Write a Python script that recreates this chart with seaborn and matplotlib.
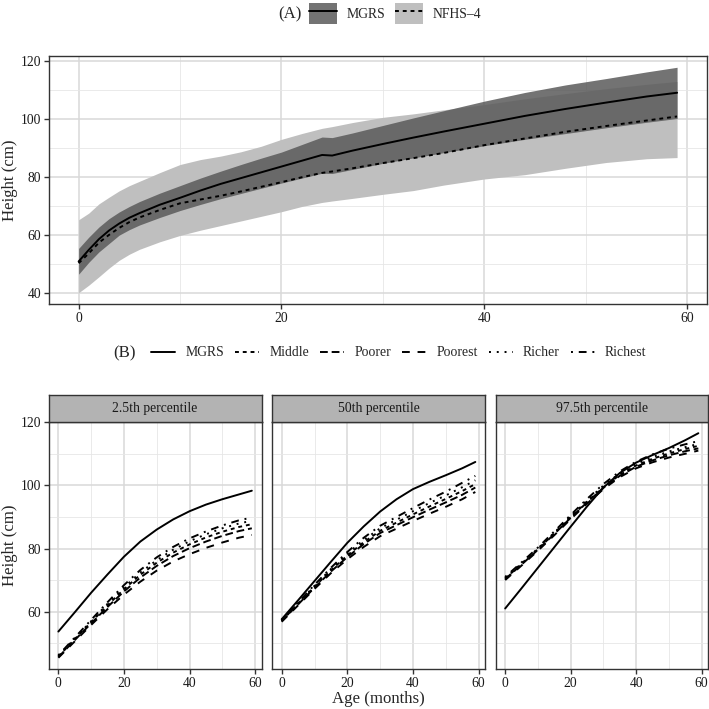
import numpy as np
import pandas as pd
import matplotlib
matplotlib.use("Agg")
import matplotlib.pyplot as plt
import seaborn as sns
from matplotlib.lines import Line2D
from matplotlib.patches import Patch

sns.set_theme(style="ticks")
plt.rcParams["font.family"] = ["Liberation Serif", "DejaVu Serif"]

# ---- (A) MGRS vs NFHS-4 height by age ----
months_a = [0, 1, 2, 3, 4, 5, 6, 8, 10, 12, 14, 16, 18, 20, 22, 24, 25, 27, 30, 33, 36, 40, 44, 48, 52, 56, 59]
mgrs_mid = [50.8, 54.8, 58.5, 61.5, 63.9, 65.9, 67.5, 70.4, 72.8, 75.3, 77.6, 79.6, 81.6, 83.6, 85.6, 87.6, 87.4,
            89.1, 91.4, 93.6, 95.7, 98.4, 101.1, 103.5, 105.7, 107.8, 109.1]
mgrs_lo = [46.4, 50.5, 54.1, 57.0, 59.9, 61.8, 63.4, 66.0, 68.4, 70.5, 72.5, 74.3, 76.1, 77.9, 79.6, 81.3, 81.2,
           82.6, 84.7, 86.6, 88.4, 90.8, 93.0, 95.0, 97.0, 98.9, 100.2]
mgrs_hi = [55.3, 59.2, 62.7, 65.6, 67.9, 69.8, 71.5, 74.4, 77.0, 79.6, 82.0, 84.3, 86.5, 88.6, 91.2, 93.8, 93.6,
           95.2, 97.8, 100.4, 102.9, 106.2, 109.2, 111.8, 114.0, 116.3, 117.9]
nfhs_mid = [50.2, 53.6, 57.3, 60.0, 62.4, 64.4, 66.0, 68.6, 70.9, 72.2, 73.5, 75.0, 76.6, 78.2, 79.9, 81.4, 81.9,
            83.0, 84.8, 86.5, 88.3, 91.0, 93.3, 95.6, 97.6, 99.5, 100.9]
nfhs_lo = [40.0, 42.6, 45.5, 48.5, 51.2, 53.3, 55.0, 57.6, 59.8, 61.6, 63.2, 64.8, 66.4, 68.0, 69.8, 71.2, 71.7,
           72.6, 74.0, 75.3, 77.2, 79.3, 80.8, 83.0, 85.0, 86.3, 86.7]
nfhs_hi = [65.2, 67.5, 70.7, 73.0, 75.2, 77.0, 78.5, 81.5, 84.3, 86.0, 87.2, 88.7, 90.6, 93.0, 95.0, 96.8, 97.4,
           98.8, 100.6, 101.8, 103.2, 105.0, 107.0, 108.8, 110.5, 112.0, 113.0]

# ---- (B) percentiles by wealth group ----
months_b = [0, 5, 10, 15, 20, 25, 30, 35, 40, 45, 50, 55, 59]
groups = ["MGRS", "Middle", "Poorer", "Poorest", "Richer", "Richest"]
panels = ["2.5th percentile", "50th percentile", "97.5th percentile"]

p025 = {
    "MGRS":    [53.7, 59.8, 66.0, 71.8, 77.4, 82.2, 86.0, 89.2, 91.8, 93.9, 95.6, 97.1, 98.3],
    "Richest": [46.2, 51.8, 57.4, 63.0, 68.4, 73.2, 77.2, 80.5, 83.2, 85.4, 87.3, 88.9, 89.8],
    "Richer":  [46.0, 51.5, 57.0, 62.5, 67.7, 72.4, 76.3, 79.6, 82.3, 84.5, 86.4, 87.9, 88.8],
    "Middle":  [45.8, 51.3, 56.7, 62.0, 67.1, 71.7, 75.5, 78.7, 81.3, 83.5, 85.3, 86.8, 87.7],
    "Poorer":  [45.6, 51.0, 56.3, 61.5, 66.4, 70.8, 74.5, 77.6, 80.1, 82.2, 84.0, 85.5, 86.4],
    "Poorest": [45.4, 50.6, 55.8, 60.8, 65.4, 69.5, 73.0, 75.9, 78.2, 80.2, 81.9, 83.4, 84.3],
}
p50 = {
    "MGRS":    [57.6, 63.6, 69.7, 75.8, 81.8, 87.0, 91.7, 95.6, 98.8, 101.1, 103.2, 105.4, 107.4],
    "Richest": [57.4, 62.9, 68.5, 73.9, 78.9, 83.4, 87.2, 90.0, 92.8, 95.5, 98.0, 100.8, 103.0],
    "Richer":  [57.2, 62.7, 68.2, 73.5, 78.4, 82.7, 86.4, 89.1, 91.8, 94.4, 96.8, 99.4, 101.6],
    "Middle":  [57.1, 62.5, 67.9, 73.1, 77.8, 82.0, 85.6, 88.2, 90.8, 93.3, 95.7, 98.2, 100.4],
    "Poorer":  [57.0, 62.3, 67.6, 72.7, 77.3, 81.4, 84.9, 87.4, 89.9, 92.3, 94.6, 97.0, 99.3],
    "Poorest": [56.8, 62.0, 67.2, 72.2, 76.6, 80.5, 83.9, 86.3, 88.7, 91.0, 93.2, 95.6, 97.9],
}
p975 = {
    "MGRS":    [61.0, 67.4, 73.9, 80.4, 86.9, 93.3, 99.3, 103.9, 107.2, 109.6, 111.8, 114.3, 116.5],
    "Richest": [71.0, 75.6, 80.3, 85.4, 90.6, 95.7, 100.4, 104.4, 107.5, 109.8, 111.6, 113.0, 114.0],
    "Richer":  [70.7, 75.3, 80.0, 85.0, 90.2, 95.2, 99.9, 103.8, 106.8, 109.0, 110.7, 112.1, 113.1],
    "Middle":  [70.5, 75.1, 79.8, 84.8, 89.9, 94.8, 99.4, 103.3, 106.3, 108.4, 110.1, 111.5, 112.5],
    "Poorer":  [70.3, 74.9, 79.6, 84.6, 89.7, 94.6, 99.2, 103.0, 105.9, 107.9, 109.5, 110.8, 111.7],
    "Poorest": [70.0, 74.6, 79.3, 84.2, 89.3, 94.2, 98.8, 102.6, 105.4, 107.3, 108.8, 110.0, 111.0],
}

dash_b = {"MGRS": "", "Middle": (2, 2), "Poorer": (4, 2), "Poorest": (4, 4),
          "Richer": (1, 3), "Richest": (1, 3, 4, 3)}

GRID_MAJ = "#d9d9d9"
GRID_MIN = "#e6e6e6"
BORDER = "#333333"
LW = 1.4


def style_axes(ax):
    ax.set_facecolor("white")
    for s in ax.spines.values():
        s.set_color(BORDER)
        s.set_linewidth(1.0)
        s.set_visible(True)
    ax.set_xticks([0, 20, 40, 60])
    ax.set_xticks([10, 30, 50], minor=True)
    ax.grid(True, which="major", color=GRID_MAJ, lw=1.1)
    ax.grid(True, which="minor", color=GRID_MIN, lw=0.6)
    ax.set_axisbelow(True)
    ax.tick_params(which="major", length=3.5, width=1.0, color=BORDER, labelsize=9.8,
                   labelcolor="#1a1a1a", pad=2)
    ax.tick_params(which="minor", length=0)
    ax.set_xlabel("")
    ax.set_ylabel("")


fig = plt.figure(figsize=(7.09, 7.09), dpi=100)
W = H = 709.0


def rect(x0, y0, x1, y1):
    return [x0 / W, 1 - y1 / H, (x1 - x0) / W, (y1 - y0) / H]


# ---- top panel ----
ax_a = fig.add_axes(rect(48.7, 56, 707, 304))
ax_a.fill_between(months_a, nfhs_lo, nfhs_hi, color="#bfbfbf", lw=0)
ax_a.fill_between(months_a, mgrs_lo, mgrs_hi, color="#5a5a5a", alpha=0.85, lw=0)
df_a = pd.concat([
    pd.DataFrame({"age": months_a, "height": mgrs_mid, "source": "MGRS"}),
    pd.DataFrame({"age": months_a, "height": nfhs_mid, "source": "NFHS\u20134"}),
])
sns.lineplot(data=df_a, x="age", y="height", style="source",
             dashes={"MGRS": "", "NFHS\u20134": (2, 2)}, color="black", lw=LW,
             errorbar=None, legend=False, ax=ax_a)
style_axes(ax_a)
ax_a.margins(x=0.05, y=0.05)
ax_a.set_yticks([40, 60, 80, 100, 120])
ax_a.set_yticks([50, 70, 90, 110], minor=True)
fig.text(10 / W, 1 - 180 / H, "Height (cm)", rotation=90, ha="center", va="center", fontsize=12.1)

# legend (A)
fig.text(289.5 / W, 1 - 14 / H, "(A)", ha="center", va="center", fontsize=12.1)
h_a = [(Patch(facecolor="#5a5a5a", alpha=0.85, lw=0), Line2D([], [], color="black", lw=LW)),
       (Patch(facecolor="#bfbfbf", lw=0), Line2D([], [], color="black", lw=LW, dashes=(2, 2)))]
fig.legend(h_a, ["MGRS", "NFHS\u20134"], loc="center left", bbox_to_anchor=(309 / W, 1 - 13.5 / H),
           ncol=2, frameon=False, fontsize=9.9, handlelength=2.0, handleheight=1.9,
           handletextpad=0.74, columnspacing=0.7, borderpad=0, borderaxespad=0)

# ---- bottom panels ----
rows = []
for pname, d in zip(panels, [p025, p50, p975]):
    for g in groups:
        rows.append(pd.DataFrame({"age": months_b, "height": d[g], "group": g, "panel": pname}))
df_b = pd.concat(rows, ignore_index=True)

xs = [(48.7, 261.5), (272, 485), (495.5, 708)]
axes_b = []
for i, (pname, (x0, x1)) in enumerate(zip(panels, xs)):
    ax = fig.add_axes(rect(x0, 422, x1, 669), sharey=axes_b[0] if axes_b else None)
    sub = df_b[df_b["panel"] == pname]
    sns.lineplot(data=sub, x="age", y="height", style="group", style_order=groups,
                 dashes=dash_b, color="black", lw=LW, errorbar=None, legend=False, ax=ax)
    style_axes(ax)
    ax.margins(x=0.05, y=0.05)
    ax.set_yticks([60, 80, 100, 120])
    ax.set_yticks([50, 70, 90, 110], minor=True)
    if i > 0:
        ax.tick_params(axis="y", which="both", left=False, labelleft=False)
    axes_b.append(ax)
    # strip
    sax = fig.add_axes(rect(x0, 395, x1, 422))
    sax.set_facecolor("#b3b3b3")
    sax.set_xticks([])
    sax.set_yticks([])
    for s in sax.spines.values():
        s.set_color(BORDER)
        s.set_linewidth(1.0)
    sax.text(0.5, 0.5, pname, ha="center", va="center", fontsize=9.8, color="#1a1a1a",
             transform=sax.transAxes)

fig.text(10 / W, 1 - 545 / H, "Height (cm)", rotation=90, ha="center", va="center", fontsize=12.1)
fig.text(378 / W, 1 - 699 / H, "Age (months)", ha="center", va="center", fontsize=12.1)

# legend (B)
fig.text(124.5 / W, 1 - 353 / H, "(B)", ha="center", va="center", fontsize=12.1)
h_b = [Line2D([], [], color="black", lw=LW, dashes=dash_b[g]) if dash_b[g] else
       Line2D([], [], color="black", lw=LW) for g in groups]
fig.legend(h_b, groups, loc="center left", bbox_to_anchor=(151 / W, 1 - 353 / H),
           ncol=6, frameon=False, fontsize=9.9, handlelength=1.75,
           handletextpad=0.74, columnspacing=0.8, borderpad=0, borderaxespad=0)

fig.savefig("out.png", dpi=100, facecolor="white")
